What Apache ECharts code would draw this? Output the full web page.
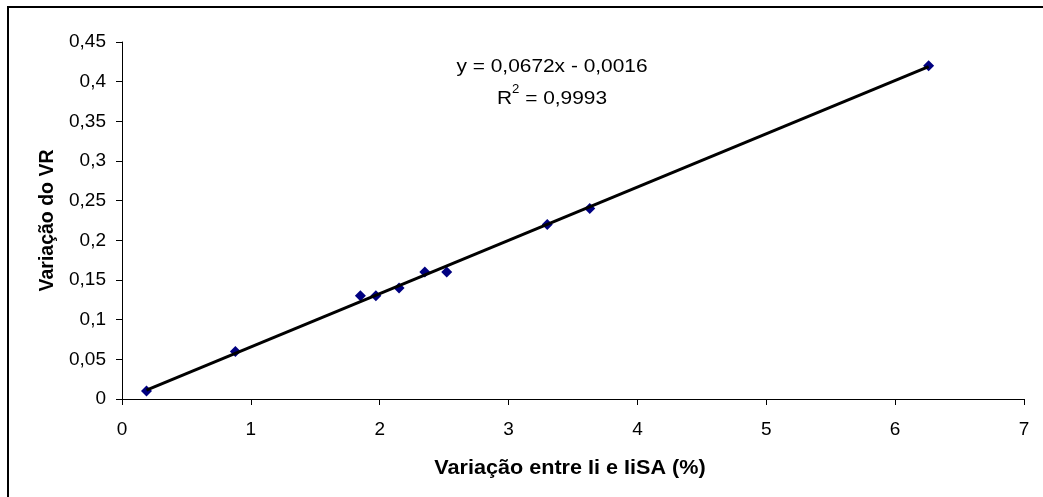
<!DOCTYPE html>
<html>
<head>
<meta charset="utf-8">
<script src="https://cdn.jsdelivr.net/npm/echarts@6/dist/echarts.min.js"></script>
<style>html,body{margin:0;padding:0;background:#fff;}#c{width:1043px;height:497px;}</style>
</head>
<body>
<div id="c"></div>
<script>
// Data
const xValues = [0.19, 0.88, 1.85, 1.97, 2.15, 2.35, 2.52, 3.30, 3.63, 6.26];
const yValues = [0.01, 0.06, 0.13, 0.13, 0.14, 0.16, 0.16, 0.22, 0.24, 0.42];
const slope = 0.0672;
const intercept = -0.0016;
const equationText = 'y = 0,0672x - 0,0016';
const r2Value = '0,9993';
const xAxisTitle = 'Variação entre Ii e IiSA (%)';
const yAxisTitle = 'Variação do VR';

const points = xValues.map((x, i) => [x, yValues[i]]);
const xMin = Math.min(...xValues), xMax = Math.max(...xValues);
const trend = [[xMin, slope * xMin + intercept], [xMax, slope * xMax + intercept]];

const fmt = v => String(Math.round(v * 100) / 100).replace('.', ',');
const font = 'Liberation Sans, Arial, sans-serif';

const chart = echarts.init(document.getElementById('c'), null, {renderer: 'canvas'});
chart.setOption({
  animation: false,
  backgroundColor: '#fff',
  grid: {left: 122, right: 19, top: 42, bottom: 98, containLabel: false},
  xAxis: {
    type: 'value', min: 0, max: 7, interval: 1,
    axisLine: {show: true, onZero: false, lineStyle: {color: '#000', width: 1}},
    axisTick: {show: true, inside: false, length: 6, lineStyle: {color: '#000'}},
    axisLabel: {fontFamily: font, fontSize: 19, color: '#000', margin: 21, formatter: v => String(v)},
    splitLine: {show: false}
  },
  yAxis: {
    type: 'value', min: 0, max: 0.45, interval: 0.05,
    name: yAxisTitle, nameLocation: 'middle', nameGap: 64, nameRotate: 90,
    nameTextStyle: {fontFamily: font, fontSize: 19.5, fontWeight: 'bold', color: '#000'},
    axisLine: {show: true, onZero: false, lineStyle: {color: '#000', width: 1}},
    axisTick: {show: true, inside: false, length: 6, lineStyle: {color: '#000'}},
    axisLabel: {fontFamily: font, fontSize: 19, color: '#000', margin: 16, formatter: fmt},
    splitLine: {show: false}
  },
  series: [
    {
      type: 'scatter', data: points, symbol: 'diamond', symbolSize: 11,
      itemStyle: {color: '#000080', opacity: 1}, z: 2
    },
    {
      type: 'line', data: trend, symbol: 'none', silent: true,
      lineStyle: {color: '#000', width: 3}, z: 3
    }
  ],
  graphic: [
    {
      type: 'rect', silent: true,
      shape: {x: 8, y: 7, width: 1100, height: 600},
      style: {fill: 'none', stroke: '#000', lineWidth: 2}
    },
    {
      type: 'text', x: 552, y: 67, scaleX: 1.1, silent: true,
      style: {text: equationText, fontFamily: font, fontSize: 19, fill: '#000', align: 'center', verticalAlign: 'middle'}
    },
    {
      type: 'text', x: 552, y: 96, scaleX: 1.1, silent: true,
      style: {
        text: '{a|R}{s|2}{a| = ' + r2Value + '}',
        align: 'center', verticalAlign: 'middle',
        rich: {
          a: {fontFamily: font, fontSize: 19, fill: '#000', lineHeight: 24, verticalAlign: 'bottom'},
          s: {fontFamily: font, fontSize: 12, fill: '#000', lineHeight: 24, verticalAlign: 'top'}
        }
      }
    },
    {
      type: 'text', x: 570, y: 468, scaleX: 1.08, silent: true,
      style: {text: xAxisTitle, fontFamily: font, fontSize: 20, fontWeight: 'bold', fill: '#000', align: 'center', verticalAlign: 'middle'}
    }
  ]
});
</script>
</body>
</html>
